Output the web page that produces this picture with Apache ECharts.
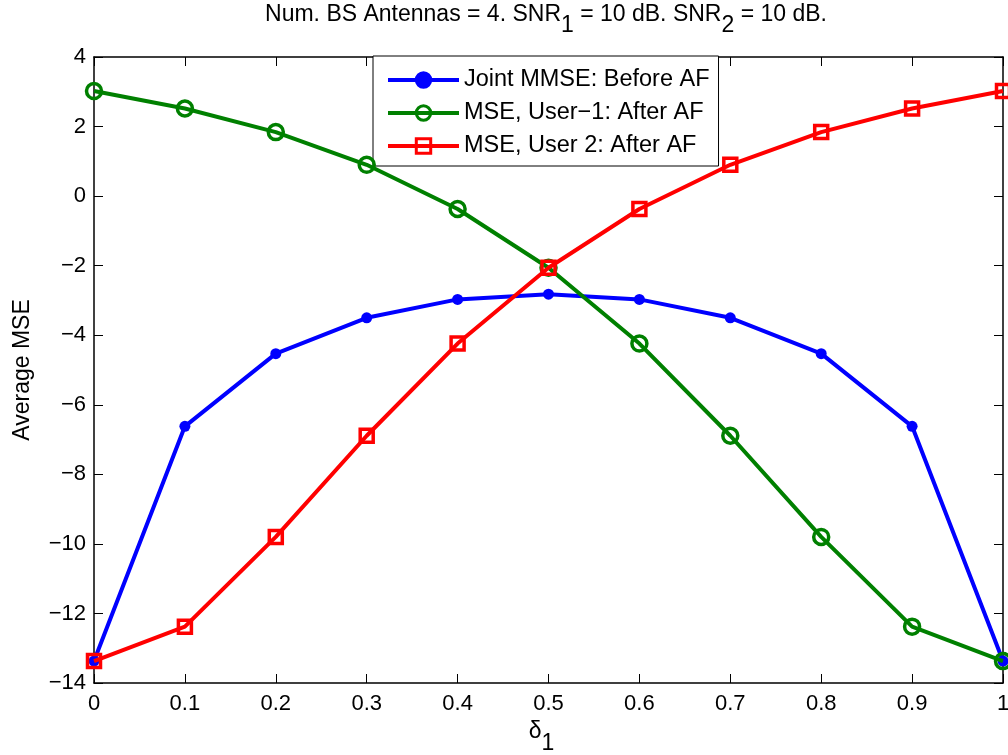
<!DOCTYPE html>
<html>
<head>
<meta charset="utf-8">
<script src="https://cdn.jsdelivr.net/npm/echarts@6/dist/echarts.min.js"></script>
<style>html,body{margin:0;padding:0;background:#fff;}#c{width:1008px;height:755px;}</style>
</head>
<body>
<div id="c"></div>
<script>
const deltaVals = [0, 0.1, 0.2, 0.3, 0.4, 0.5, 0.6, 0.7, 0.8, 0.9, 1.0];
const jointMMSE = [-13.37, -6.62, -4.53, -3.50, -2.97, -2.82, -2.97, -3.50, -4.53, -6.62, -13.37];
const mseUser1 = [3.02, 2.52, 1.84, 0.90, -0.37, -2.06, -4.24, -6.89, -9.80, -12.38, -13.37];
const mseUser2 = [-13.37, -12.38, -9.80, -6.89, -4.24, -2.06, -0.37, 0.90, 1.84, 2.52, 3.02];
const seriesNames = ['Joint MMSE: Before AF', 'MSE, User\u22121: After AF', 'MSE, User 2: After AF'];

const FONT = '"Liberation Sans", Arial, Helvetica, sans-serif';
const FS = 23;
const pairs = a => deltaVals.map((x, i) => [x, a[i]]);
const chart = echarts.init(document.getElementById('c'));
const axisCommon = {
  axisLine: {show: true, onZero: false, lineStyle: {color: '#000', width: 1.5}},
  axisTick: {show: true, inside: true, length: 9, lineStyle: {color: '#000', width: 1}},
  splitLine: {show: false}
};
const mStyle = {fontFamily: FONT, fontSize: FS, color: '#000', verticalAlign: 'top', lineHeight: FS};
const sStyle = {fontFamily: FONT, fontSize: FS, color: '#000', verticalAlign: 'top', lineHeight: FS, padding: [11, 0, 0, 0]};
chart.setOption({
  animation: false,
  backgroundColor: '#fff',
  textStyle: {fontFamily: FONT},
  title: {
    text: '{m|Num. BS Antennas = 4. SNR}{s|1}{m| = 10 dB. SNR}{s|2}{m| = 10 dB.}',
    left: 546, top: 3, textAlign: 'center', padding: 0,
    textStyle: {fontFamily: FONT, fontSize: FS, fontWeight: 'normal', color: '#000',
      rich: {m: mStyle, s: sStyle}}
  },
  grid: {left: 94, right: 5, top: 57, bottom: 72, containLabel: false, outerBoundsMode: 'none'},
  legend: {
    left: 373, top: 56,
    orient: 'vertical',
    backgroundColor: '#fff', borderColor: '#000', borderWidth: 1,
    padding: [12, 9, 8, 13],
    itemWidth: 71, itemHeight: 18, itemGap: 9,
    lineStyle: {width: 4},
    itemStyle: {borderWidth: 3},
    textStyle: {fontFamily: FONT, fontSize: 23.5, color: '#000', lineHeight: 24},
    data: seriesNames
  },
  xAxis: [
    Object.assign({type: 'value', min: 0, max: 1, interval: 0.1, position: 'bottom',
      name: '{m|\u03b4}{s|1}', nameLocation: 'middle', nameGap: 35,
      nameTextStyle: {padding: [0, 14, 0, 0], rich: {m: mStyle, s: Object.assign({}, sStyle, {padding: [12, 0, 0, 0]})}},
      axisLabel: {fontFamily: FONT, fontSize: 22, color: '#000', margin: 10,
        formatter: v => String(Math.round(v * 10) / 10)}}, axisCommon),
    Object.assign({type: 'value', min: 0, max: 1, interval: 0.1, position: 'top',
      axisLabel: {show: false}}, axisCommon)
  ],
  yAxis: [
    Object.assign({type: 'value', min: -14, max: 4, interval: 2, position: 'left',
      name: 'Average MSE', nameLocation: 'middle', nameGap: 60, nameRotate: 90,
      nameTextStyle: {fontFamily: FONT, fontSize: FS, color: '#000'},
      axisLabel: {fontFamily: FONT, fontSize: 22, color: '#000', margin: 8,
        formatter: v => (v < 0 ? '\u2212' + (-v) : String(v))}}, axisCommon),
    Object.assign({type: 'value', min: -14, max: 4, interval: 2, position: 'right',
      axisLabel: {show: false}}, axisCommon)
  ],
  series: [
    {name: seriesNames[0], type: 'line', data: pairs(jointMMSE), symbol: 'circle', symbolSize: 11,
      lineStyle: {color: '#0000ff', width: 4}, itemStyle: {color: '#0000ff', borderColor: '#0000ff', borderWidth: 0}, z: 3},
    {name: seriesNames[1], type: 'line', data: pairs(mseUser1), symbol: 'circle', symbolSize: 15,
      lineStyle: {color: '#008000', width: 4}, itemStyle: {color: 'transparent', borderColor: '#008000', borderWidth: 3.5}, z: 4},
    {name: seriesNames[2], type: 'line', data: pairs(mseUser2), symbol: 'rect', symbolSize: 13,
      lineStyle: {color: '#ff0000', width: 4}, itemStyle: {color: 'transparent', borderColor: '#ff0000', borderWidth: 3.5}, z: 5}
  ]
});
</script>
</body>
</html>
